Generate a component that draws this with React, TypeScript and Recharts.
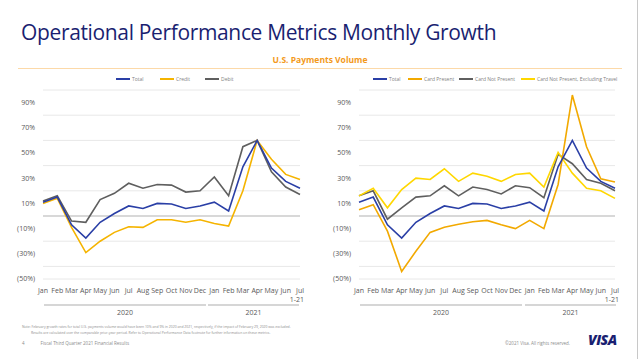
import { CartesianGrid, Line, LineChart, ReferenceLine, XAxis, YAxis } from "recharts";

const months = [
  "Jan", "Feb", "Mar", "Apr", "May", "Jun", "Jul", "Aug", "Sep", "Oct", "Nov", "Dec",
  "Jan", "Feb", "Mar", "Apr", "May", "Jun", "Jul\n1-21",
];

// left panel
const total = [11, 15, -7, -17.5, -5, 2, 8, 6, 10, 9.5, 6, 8, 11, 4, 39, 60, 38, 27.5, 22];
const credit = [10, 14, -9, -29, -20, -13, -8.5, -9, -3, -3, -5, -3, -6, -8, 20, 60, 45, 33, 29];
const debit = [12, 16, -4, -5, 13, 18, 26, 22, 25, 24.5, 19, 20, 31, 16, 55, 60, 35, 23, 17];

// right panel
const cardPresent = [5, 9, -12, -44, -28, -13, -9, -6.5, -4.5, -3.5, -7, -10, -3.5, -10, 25, 96, 55, 29.5, 27];
const cardNotPresent = [16, 20, -2.5, 6.5, 15, 16, 24, 16, 23, 21, 17.5, 24, 22.5, 14.5, 49, 41.5, 29, 26, 20];
const cnpExTravel = [16, 22, 6.5, 21, 30, 29, 37.5, 27.5, 34, 31.5, 27.5, 33, 34, 23, 50.5, 34, 22, 20, 14];

const yTicks = [-50, -40, -30, -20, -10, 0, 10, 20, 30, 40, 50, 60, 70, 80, 90, 100];

const BLUE = "#2a3fa6";
const GOLD = "#f5b400";
const GRAY = "#5f5f5f";
const ORANGE = "#f2a900";
const YELLOW = "#ffd700";
const FONT = "'Open Sans', 'Noto Sans', sans-serif";

const leftData = months.map((m, i) => ({ m, total: total[i], credit: credit[i], debit: debit[i] }));
const rightData = months.map((m, i) => ({
  m,
  total: total[i],
  cp: cardPresent[i],
  cnp: cardNotPresent[i],
  cnpx: cnpExTravel[i],
}));

const fmtY = (v: number) => (v % 20 === 0 ? "" : v < 0 ? `(${-v}%)` : `${v}%`);

function MonthTick(props: any) {
  const { x, y, payload } = props;
  const parts = String(payload.value).split("\n");
  return (
    <text x={x} y={y} textAnchor="middle" fontSize={7} fill="#595959" fontFamily={FONT}>
      {parts.map((p, i) => (
        <tspan key={i} x={i === 0 ? x : x - 3} dy={i === 0 ? 6 : 8.5}>
          {p}
        </tspan>
      ))}
    </text>
  );
}

function Panel({ data, series, left, marginLeft, marginRight }: any) {
  return (
    <div style={{ position: "absolute", left, top: 72 }}>
      <LineChart
        width={320}
        height={240}
        data={data}
        margin={{ top: 18, right: marginRight, left: marginLeft, bottom: 0 }}
        accessibilityLayer={false}
      >
        <CartesianGrid vertical={false} stroke="#e8e8e8" strokeWidth={1} />
        <XAxis
          dataKey="m"
          axisLine={false}
          tickLine={false}
          interval={0}
          height={33}
          tick={<MonthTick />}
        />
        <YAxis
          domain={[-50, 100]}
          ticks={yTicks}
          tickFormatter={fmtY}
          axisLine={false}
          tickLine={false}
          width={35}
          tick={{ fontSize: 7, fill: "#595959", fontFamily: FONT }}
        />
        <ReferenceLine y={0} stroke="#bdbdbd" strokeWidth={1} />
        {series.map((s: any) => (
          <Line
            key={s.key}
            type="linear"
            dataKey={s.key}
            stroke={s.color}
            strokeWidth={1.6}
            dot={false}
            isAnimationActive={false}
          />
        ))}
      </LineChart>
    </div>
  );
}

function LegendItem({ x, color, label }: any) {
  return (
    <div style={{ position: "absolute", left: x, top: 76, display: "flex", alignItems: "center" }}>
      <div style={{ width: 14, height: 2, background: color, marginRight: 2 }} />
      <span style={{ fontSize: 5, color: "#7f7f7f", fontFamily: FONT, lineHeight: "6px" }}>{label}</span>
    </div>
  );
}

function YearBand({ x1, x2, label }: any) {
  return (
    <>
      <div style={{ position: "absolute", left: x1, top: 304, width: x2 - x1, height: 2, background: "#d6d6d6" }} />
      <div
        style={{
          position: "absolute",
          left: x1,
          width: x2 - x1,
          top: 308,
          textAlign: "center",
          fontSize: 7,
          color: "#595959",
          fontFamily: FONT,
        }}
      >
        {label}
      </div>
    </>
  );
}

export default function App() {
  return (
    <div
      style={{
        position: "absolute",
        left: 0,
        top: 0,
        width: 640,
        height: 359,
        background: "#fff",
        overflow: "hidden",
        fontFamily: FONT,
      }}
    >
      <div style={{ position: "absolute", right: 2, top: 0, width: 1, height: 359, background: "#c8c8c8" }} />
      <div
        style={{
          position: "absolute",
          left: 21,
          top: 18,
          fontSize: 21,
          color: "#1a1f71",
          fontFamily: FONT,
          letterSpacing: -0.35,
          whiteSpace: "nowrap",
        }}
      >
        Operational Performance Metrics Monthly Growth
      </div>
      <div
        style={{
          position: "absolute",
          left: 0,
          width: 640,
          top: 54,
          textAlign: "center",
          fontSize: 8.5,
          fontWeight: 700,
          color: "#f39a1c",
        }}
      >
        U.S. Payments Volume
      </div>
      <div style={{ position: "absolute", left: 18, top: 68, width: 604, height: 1, background: "#fcd9a8" }} />

      <LegendItem x={116} color={BLUE} label="Total" />
      <LegendItem x={160} color={GOLD} label="Credit" />
      <LegendItem x={205} color={GRAY} label="Debit" />

      <LegendItem x={373} color={BLUE} label="Total" />
      <LegendItem x={408} color={ORANGE} label="Card Present" />
      <LegendItem x={459} color={GRAY} label="Card Not Present" />
      <LegendItem x={521} color={YELLOW} label="Card Not Present, Excluding Travel" />

      <Panel
        data={leftData}
        left={0}
        marginLeft={8}
        marginRight={20}
        series={[
          { key: "debit", color: GRAY },
          { key: "credit", color: GOLD },
          { key: "total", color: BLUE },
        ]}
      />
      <Panel
        data={rightData}
        left={320}
        marginLeft={4}
        marginRight={25}
        series={[
          { key: "cnp", color: GRAY },
          { key: "cnpx", color: YELLOW },
          { key: "cp", color: ORANGE },
          { key: "total", color: BLUE },
        ]}
      />

      <YearBand x1={44} x2={206} label="2020" />
      <YearBand x1={208} x2={299} label="2021" />
      <YearBand x1={360} x2={522} label="2020" />
      <YearBand x1={525} x2={616} label="2021" />

      <div style={{ position: "absolute", left: 22, top: 324, fontSize: 3.4, color: "#8c8c8c", lineHeight: "6px", whiteSpace: "nowrap" }}>
        Note: February growth rates for total U.S. payments volume would have been 10% and 9% in 2020 and 2021, respectively, if the impact of February 29, 2020 was excluded.
        <br />
        <span style={{ paddingLeft: 9 }}>
          Results are calculated over the comparable prior-year period. Refer to Operational Performance Data footnote for further information on these metrics.
        </span>
      </div>
      <div style={{ position: "absolute", left: 22, top: 340, fontSize: 4.5, color: "#8c8c8c", whiteSpace: "nowrap" }}>
        4<span style={{ marginLeft: 16 }}>Fiscal Third Quarter 2021 Financial Results</span>
      </div>
      <div style={{ position: "absolute", left: 505, top: 340, fontSize: 4.5, color: "#8c8c8c", whiteSpace: "nowrap" }}>
        ©2021 Visa. All rights reserved.
      </div>
      <div
        style={{
          position: "absolute",
          left: 588,
          top: 330,
          fontSize: 14,
          fontWeight: 800,
          fontStyle: "italic",
          color: "#1a1f71",
          letterSpacing: -0.5,
        }}
      >
        VISA
      </div>
    </div>
  );
}
